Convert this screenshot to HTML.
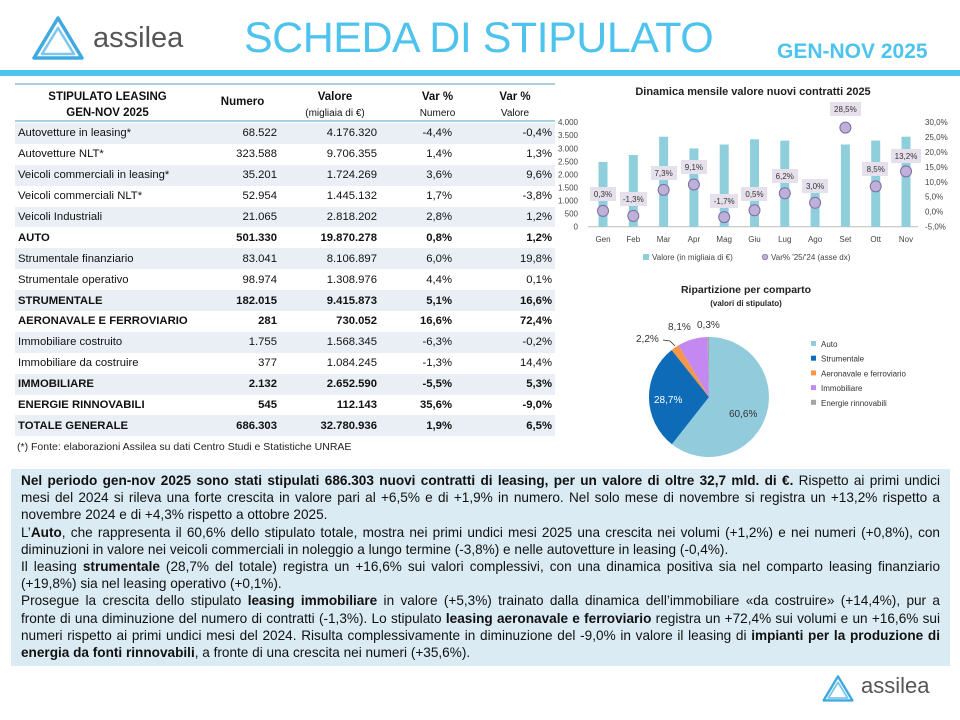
<!DOCTYPE html>
<html><head><meta charset="utf-8">
<style>
*{margin:0;padding:0;box-sizing:border-box}
body{width:960px;height:720px;background:#fff;font-family:"Liberation Sans",sans-serif;position:relative;overflow:hidden;color:#111}
.abs{position:absolute}
table{border-collapse:collapse;table-layout:fixed}
td{font-size:11.3px;height:20.9px;padding:0 3px;white-space:nowrap}
td.n{text-align:right}
tr.s td{background:#e9eff5}
tr.b td{font-weight:bold}
.txt{font-size:13.6px;line-height:17.2px;color:#111}
.txt div{white-space:nowrap;text-align:justify;text-align-last:justify}
.txt div.l{text-align-last:left}
</style></head><body>

<svg class="abs" style="left:28px;top:14px" width="60" height="50" viewBox="0 0 60 50">
<g fill="none" stroke="#3fa9e0" stroke-width="3.5" stroke-linejoin="round">
<path d="M30 4 L6 44 L54 44 Z"/>
<path d="M30 14 L14 40 L46 40 Z" stroke-width="2.5" stroke="#7cc6ee"/>
</g></svg>
<div class="abs" style="left:93px;top:22px;font-size:29px;color:#555">assilea</div>
<div class="abs" style="left:244px;top:14px;font-size:43px;color:#4dc3ed;letter-spacing:-0.5px">SCHEDA DI STIPULATO</div>
<div class="abs" style="left:777px;top:40px;font-size:21px;font-weight:bold;color:#4dc3ed">GEN-NOV 2025</div>
<div class="abs" style="left:0;top:70px;width:960px;height:6px;background:#4dc3ed"></div>

<div class="abs" style="left:15px;top:83px;width:540px;height:2px;background:#a9cfe0"></div>
<div class="abs" style="left:15px;top:89px;width:185px;text-align:center;font-size:11.5px;font-weight:bold;line-height:16px">STIPULATO LEASING<br>GEN-NOV 2025</div>
<div class="abs" style="left:200px;top:96px;width:85px;text-align:center;font-size:11.5px;font-weight:bold">Numero</div>
<div class="abs" style="left:285px;top:89px;width:100px;text-align:center;font-size:11.5px;line-height:16px"><b>Valore</b><br><span style="font-size:10px">(migliaia di €)</span></div>
<div class="abs" style="left:400px;top:89px;width:75px;text-align:center;font-size:11.5px;line-height:16px"><b>Var %</b><br><span style="font-size:10px">Numero</span></div>
<div class="abs" style="left:475px;top:89px;width:80px;text-align:center;font-size:11.5px;line-height:16px"><b>Var %</b><br><span style="font-size:10px">Valore</span></div>
<div class="abs" style="left:15px;top:120px;width:540px;height:2px;background:#a9cfe0"></div>
<table class="abs" style="left:15px;top:123px;width:540px">
<colgroup><col style="width:185px"><col style="width:80px"><col style="width:100px"><col style="width:75px"><col style="width:100px"></colgroup>
<tr class="s"><td>Autovetture in leasing*</td><td class="n">68.522</td><td class="n">4.176.320</td><td class="n">-4,4%</td><td class="n">-0,4%</td></tr>
<tr><td>Autovetture NLT*</td><td class="n">323.588</td><td class="n">9.706.355</td><td class="n">1,4%</td><td class="n">1,3%</td></tr>
<tr class="s"><td>Veicoli commerciali in leasing*</td><td class="n">35.201</td><td class="n">1.724.269</td><td class="n">3,6%</td><td class="n">9,6%</td></tr>
<tr><td>Veicoli commerciali NLT*</td><td class="n">52.954</td><td class="n">1.445.132</td><td class="n">1,7%</td><td class="n">-3,8%</td></tr>
<tr class="s"><td>Veicoli Industriali</td><td class="n">21.065</td><td class="n">2.818.202</td><td class="n">2,8%</td><td class="n">1,2%</td></tr>
<tr class="b"><td>AUTO</td><td class="n">501.330</td><td class="n">19.870.278</td><td class="n">0,8%</td><td class="n">1,2%</td></tr>
<tr class="s"><td>Strumentale finanziario</td><td class="n">83.041</td><td class="n">8.106.897</td><td class="n">6,0%</td><td class="n">19,8%</td></tr>
<tr><td>Strumentale operativo</td><td class="n">98.974</td><td class="n">1.308.976</td><td class="n">4,4%</td><td class="n">0,1%</td></tr>
<tr class="s b"><td>STRUMENTALE</td><td class="n">182.015</td><td class="n">9.415.873</td><td class="n">5,1%</td><td class="n">16,6%</td></tr>
<tr class="b"><td>AERONAVALE E FERROVIARIO</td><td class="n">281</td><td class="n">730.052</td><td class="n">16,6%</td><td class="n">72,4%</td></tr>
<tr class="s"><td>Immobiliare costruito</td><td class="n">1.755</td><td class="n">1.568.345</td><td class="n">-6,3%</td><td class="n">-0,2%</td></tr>
<tr><td>Immobiliare da costruire</td><td class="n">377</td><td class="n">1.084.245</td><td class="n">-1,3%</td><td class="n">14,4%</td></tr>
<tr class="s b"><td>IMMOBILIARE</td><td class="n">2.132</td><td class="n">2.652.590</td><td class="n">-5,5%</td><td class="n">5,3%</td></tr>
<tr class="b"><td>ENERGIE RINNOVABILI</td><td class="n">545</td><td class="n">112.143</td><td class="n">35,6%</td><td class="n">-9,0%</td></tr>
<tr class="s b"><td>TOTALE GENERALE</td><td class="n">686.303</td><td class="n">32.780.936</td><td class="n">1,9%</td><td class="n">6,5%</td></tr>
</table>
<div class="abs" style="left:17px;top:441px;font-size:10.5px;color:#222">(*) Fonte: elaborazioni Assilea su dati Centro Studi e Statistiche UNRAE</div>

<svg class="abs" style="left:0;top:0" width="960" height="470" font-family="Liberation Sans, sans-serif">
<text x="753" y="95" font-size="11" font-weight="bold" text-anchor="middle" fill="#222">Dinamica mensile valore nuovi contratti 2025</text>
<g font-size="8" fill="#444" text-anchor="end">
<text x="578" y="229.5">0</text><text x="578" y="216.5">500</text><text x="578" y="203.5">1.000</text><text x="578" y="190.4">1.500</text><text x="578" y="177.4">2.000</text><text x="578" y="164.3">2.500</text><text x="578" y="151.3">3.000</text><text x="578" y="138.2">3.500</text><text x="578" y="125.2">4.000</text>
</g>
<g font-size="8" fill="#444">
<text x="925" y="229.5">-5,0%</text><text x="925" y="214.6">0,0%</text><text x="925" y="199.7">5,0%</text><text x="925" y="184.8">10,0%</text><text x="925" y="169.9">15,0%</text><text x="925" y="155">20,0%</text><text x="925" y="140">25,0%</text><text x="925" y="125.2">30,0%</text>
</g>
<line x1="588" y1="226.7" x2="918" y2="226.7" stroke="#bbb" stroke-width="1"/>
<g fill="#8fcfdc">
<rect x="598.5" y="162" width="9" height="64.7"/>
<rect x="628.8" y="155" width="9" height="71.7"/>
<rect x="659.1" y="136.7" width="9" height="90"/>
<rect x="689.4" y="148.4" width="9" height="78.3"/>
<rect x="719.7" y="144.5" width="9" height="82.2"/>
<rect x="750" y="139.3" width="9" height="87.4"/>
<rect x="780.3" y="140.6" width="9" height="86.1"/>
<rect x="810.6" y="180" width="9" height="46.7"/>
<rect x="840.9" y="144.5" width="9" height="82.2"/>
<rect x="871.2" y="140.6" width="9" height="86.1"/>
<rect x="901.5" y="136.7" width="9" height="90"/>
</g>
<g fill="#bfb0d8" stroke="#7f6aa8" stroke-width="1">
<circle cx="603" cy="210.9" r="5.5"/><circle cx="633.3" cy="215.9" r="5.5"/><circle cx="663.6" cy="189.9" r="5.5"/><circle cx="693.9" cy="184.5" r="5.5"/><circle cx="724.2" cy="217.1" r="5.5"/><circle cx="754.5" cy="210.3" r="5.5"/><circle cx="784.8" cy="193.3" r="5.5"/><circle cx="815.1" cy="202.8" r="5.5"/><circle cx="845.4" cy="127.6" r="5.5"/><circle cx="875.7" cy="186.4" r="5.5"/><circle cx="906" cy="171.4" r="5.5"/>
</g>
<g fill="#e6e0ec">
<rect x="590" y="187" width="26" height="14"/><rect x="620" y="192" width="27" height="14"/><rect x="651" y="166" width="26" height="14"/><rect x="681" y="160" width="26" height="14"/><rect x="710" y="194" width="28" height="14"/><rect x="741" y="187" width="26" height="14"/><rect x="772" y="169" width="26" height="14"/><rect x="802" y="179" width="26" height="14"/><rect x="830" y="102" width="31" height="14"/><rect x="862" y="162" width="26" height="14"/><rect x="891" y="149" width="30" height="14"/>
</g>
<g font-size="8" fill="#333" text-anchor="middle">
<text x="603" y="197">0,3%</text><text x="633.3" y="202">-1,3%</text><text x="663.6" y="176">7,3%</text><text x="693.9" y="170">9,1%</text><text x="724.2" y="204">-1,7%</text><text x="754.5" y="197">0,5%</text><text x="784.8" y="179">6,2%</text><text x="815.1" y="189">3,0%</text><text x="845.4" y="112">28,5%</text><text x="875.7" y="172">8,5%</text><text x="906" y="159">13,2%</text>
</g>
<g font-size="8" fill="#444" text-anchor="middle">
<text x="603" y="242">Gen</text><text x="633.3" y="242">Feb</text><text x="663.6" y="242">Mar</text><text x="693.9" y="242">Apr</text><text x="724.2" y="242">Mag</text><text x="754.5" y="242">Giu</text><text x="784.8" y="242">Lug</text><text x="815.1" y="242">Ago</text><text x="845.4" y="242">Set</text><text x="875.7" y="242">Ott</text><text x="906" y="242">Nov</text>
</g>
<rect x="643" y="254" width="6" height="6" fill="#8fcfdc"/>
<text x="652" y="260" font-size="8" fill="#444">Valore (in migliaia di €)</text>
<circle cx="765" cy="257" r="2.8" fill="#bfb0d8" stroke="#7f6aa8" stroke-width="0.7"/>
<text x="771" y="260" font-size="8" fill="#444">Var% '25/'24 (asse dx)</text>

<text x="746" y="293" font-size="10.5" font-weight="bold" text-anchor="middle" fill="#222">Ripartizione per comparto</text>
<text x="746" y="306" font-size="8" font-weight="bold" text-anchor="middle" fill="#222">(valori di stipulato)</text>
<path d="M709 397 L709 337 A60 60 0 1 1 671.9 444.2 Z" fill="#92cbdc"/>
<path d="M709 397 L671.9 444.2 A60 60 0 0 1 671.65 350 Z" fill="#0e6bb7"/>
<path d="M709 397 L671.65 350 A60 60 0 0 1 678.5 345.3 Z" fill="#f4974a"/>
<path d="M709 397 L678.5 345.3 A60 60 0 0 1 707.5 337 Z" fill="#c489f0"/>
<path d="M709 397 L707.5 337 A60 60 0 0 1 709 337 Z" fill="#a5a5a5"/>
<polyline points="663,340 670,341 675,346" fill="none" stroke="#333" stroke-width="0.8"/>
<g font-size="10" fill="#333">
<text x="636" y="342">2,2%</text><text x="668" y="330">8,1%</text><text x="697" y="328">0,3%</text>
<text x="654" y="403" fill="#fff">28,7%</text><text x="729" y="417">60,6%</text>
</g>
<g font-size="8" fill="#333">
<rect x="811" y="341" width="5" height="5" fill="#92cbdc"/><text x="821" y="347">Auto</text>
<rect x="811" y="355.7" width="5" height="5" fill="#0e6bb7"/><text x="821" y="361.7">Strumentale</text>
<rect x="811" y="370.4" width="5" height="5" fill="#f4974a"/><text x="821" y="376.4">Aeronavale e ferroviario</text>
<rect x="811" y="385.1" width="5" height="5" fill="#c489f0"/><text x="821" y="391.1">Immobiliare</text>
<rect x="811" y="399.8" width="5" height="5" fill="#a5a5a5"/><text x="821" y="405.8">Energie rinnovabili</text>
</g>
</svg>

<div class="abs" style="left:11px;top:469px;width:939px;height:197px;background:#dbebf3"></div>
<div class="abs txt" style="left:21px;top:472px;width:919px">
<div><b>Nel periodo gen-nov 2025 sono stati stipulati 686.303 nuovi contratti di leasing, per un valore di oltre 32,7 mld. di €.</b> Rispetto ai primi undici</div>
<div>mesi del 2024 si rileva una forte crescita in valore pari al +6,5% e di +1,9% in numero. Nel solo mese di novembre si registra un +13,2% rispetto a</div>
<div class="l">novembre 2024 e di +4,3% rispetto a ottobre 2025.</div>
<div>L’<b>Auto</b>, che rappresenta il 60,6% dello stipulato totale, mostra nei primi undici mesi 2025 una crescita nei volumi (+1,2%) e nei numeri (+0,8%), con</div>
<div class="l">diminuzioni in valore nei veicoli commerciali in noleggio a lungo termine (-3,8%) e nelle autovetture in leasing (-0,4%).</div>
<div>Il leasing <b>strumentale</b> (28,7% del totale) registra un +16,6% sui valori complessivi, con una dinamica positiva sia nel comparto leasing finanziario</div>
<div class="l">(+19,8%) sia nel leasing operativo (+0,1%).</div>
<div>Prosegue la crescita dello stipulato <b>leasing immobiliare</b> in valore (+5,3%) trainato dalla dinamica dell’immobiliare «da costruire» (+14,4%), pur a</div>
<div>fronte di una diminuzione del numero di contratti (-1,3%). Lo stipulato <b>leasing aeronavale e ferroviario</b> registra un +72,4% sui volumi e un +16,6% sui</div>
<div>numeri rispetto ai primi undici mesi del 2024. Risulta complessivamente in diminuzione del -9,0% in valore il leasing di <b>impianti per la produzione di</b></div>
<div class="l"><b>energia da fonti rinnovabili</b>, a fronte di una crescita nei numeri (+35,6%).</div>
</div>

<svg class="abs" style="left:820px;top:673px" width="36" height="32" viewBox="0 0 60 50">
<g fill="none" stroke="#3fa9e0" stroke-width="4" stroke-linejoin="round">
<path d="M30 4 L6 44 L54 44 Z"/>
<path d="M30 14 L14 40 L46 40 Z" stroke-width="3" stroke="#7cc6ee"/>
</g></svg>
<div class="abs" style="left:861px;top:673px;font-size:22px;color:#555">assilea</div>
</body></html>
